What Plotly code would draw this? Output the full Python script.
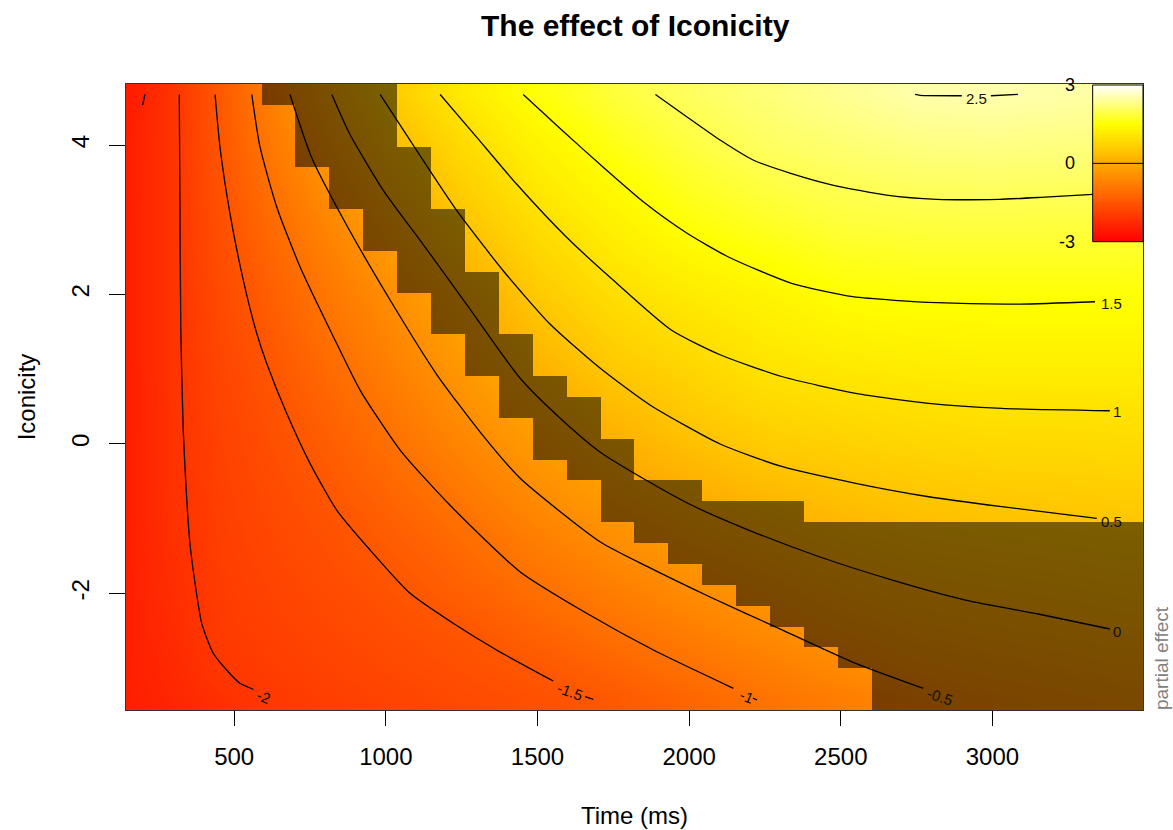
import numpy as np
import plotly.graph_objects as go

# ---------------- text ----------------
title_text = "The effect of Iconicity"
x_title = "Time (ms)"
y_title = "Iconicity"
z_title = "partial effect"

# ---------------- axes ----------------
x_range = [143.3, 3496.4]
y_range = [-3.561, 4.817]
x_ticks = [500, 1000, 1500, 2000, 2500, 3000]
y_ticks = [-2, 0, 2, 4]

# ---------------- surface (partial effect) ----------------
time_pts = [150, 300, 450, 600, 800, 1000, 1250, 1500, 1750, 2000, 2250, 2500, 2750, 3000, 3250, 3440]
icon_pts = [-3.42, -3, -2.5, -2, -1, 0, 1, 2, 3, 4, 4.68]
effect_m342 = [-2.45, -2.33, -2.16, -2.01, -1.91, -1.82, -1.70, -1.59, -1.44, -1.21, -0.98, -0.79, -0.59, -0.47, -0.39, -0.33]
effect_m3 = [-2.45, -2.28, -2.04, -1.94, -1.84, -1.74, -1.61, -1.47, -1.24, -1.01, -0.79, -0.58, -0.40, -0.31, -0.24, -0.18]
effect_m25 = [-2.45, -2.23, -1.97, -1.89, -1.77, -1.65, -1.51, -1.26, -1.01, -0.78, -0.55, -0.36, -0.21, -0.13, -0.06, -0.01]
effect_m2 = [-2.45, -2.20, -1.95, -1.84, -1.70, -1.56, -1.32, -1.06, -0.80, -0.55, -0.36, -0.16, -0.02, 0.05, 0.11, 0.17]
effect_m1 = [-2.45, -2.14, -1.90, -1.75, -1.56, -1.33, -1.01, -0.66, -0.37, -0.11, 0.09, 0.26, 0.37, 0.43, 0.47, 0.51]
effect_0 = [-2.45, -2.11, -1.85, -1.65, -1.37, -1.05, -0.65, -0.27, 0.09, 0.38, 0.60, 0.69, 0.77, 0.82, 0.83, 0.85]
effect_1 = [-2.45, -2.09, -1.79, -1.53, -1.15, -0.78, -0.32, 0.14, 0.54, 0.77, 1.01, 1.10, 1.16, 1.19, 1.19, 1.19]
effect_2 = [-2.45, -2.08, -1.71, -1.37, -0.92, -0.52, -0.01, 0.56, 0.92, 1.14, 1.32, 1.50, 1.54, 1.54, 1.54, 1.54]
effect_3 = [-2.45, -2.08, -1.62, -1.17, -0.65, -0.16, 0.48, 0.93, 1.27, 1.57, 1.73, 1.85, 1.89, 1.90, 1.89, 1.88]
effect_4 = [-2.47, -2.07, -1.51, -0.95, -0.32, 0.26, 0.85, 1.29, 1.62, 1.87, 2.06, 2.16, 2.25, 2.27, 2.24, 2.22]
effect_468 = [-2.52, -2.08, -1.45, -0.83, -0.08, 0.55, 1.13, 1.55, 1.84, 2.06, 2.21, 2.36, 2.50, 2.53, 2.48, 2.45]
effect_rows = [effect_m342, effect_m3, effect_m25, effect_m2, effect_m1, effect_0,
               effect_1, effect_2, effect_3, effect_4, effect_468]

# ---------------- non-significant cells (30 x 30 model grid, rows from top) ----------------
grid_n = 30
grid_time_min, grid_time_max = 199, 3440
grid_icon_min, grid_icon_max = -3.42, 4.677
ns_first_col = [4, 5, 5, 5, 6, 6, 7, 7, 8, 8, 9, 9, 10, 10, 11, 11, 12, 12, 13, 14, 14, 15, 16, 17, 18, 19, 20, 21, 22, 22]
ns_last_col = [7, 7, 7, 8, 8, 8, 9, 9, 9, 10, 10, 10, 11, 11, 12, 13, 13, 14, 14, 16, 19, 29, 29, 29, 29, 29, 29, 29, 29, 29]

# ---------------- contour lines ----------------
c_m25_t = [206, 198]
c_m25_y = [4.677, 4.536]
c_m2_t = [319, 321, 324, 332, 343, 354, 371, 393, 431, 475, 519, 563]
c_m2_y = [4.677, 3.264, 1.524, 0.186, -0.707, -1.330, -1.866, -2.401, -2.802, -3.026, -3.204, -3.284]
c_m15_t = [437, 453, 486, 530, 574, 607, 673, 750, 838, 948, 1080, 1222, 1365, 1552]
c_m15_y = [4.677, 3.978, 3.086, 2.193, 1.484, 1.079, 0.410, -0.260, -0.885, -1.420, -2.000, -2.401, -2.758, -3.173]
c_m15_tail_t = [1657, 1684]
c_m15_tail_y = [-3.383, -3.418]
c_m1_t = [558, 585, 640, 717, 827, 915, 1047, 1211, 1442, 1662, 1882, 2146]
c_m1_y = [4.677, 3.978, 3.175, 2.372, 1.435, 0.721, -0.082, -0.818, -1.710, -2.267, -2.758, -3.271]
c_m1_tail_t = [2210, 2224]
c_m1_tail_y = [-3.401, -3.427]
c_m05_t = [684, 756, 865, 1014, 1169, 1311, 1442, 1706, 1863, 2067, 2308, 2549, 2772]
c_m05_y = [4.677, 3.826, 2.970, 1.926, 0.922, 0.159, -0.456, -1.309, -1.643, -2.045, -2.491, -2.936, -3.271]
c_0_t = [822, 881, 991, 1122, 1268, 1442, 1574, 1706, 1863, 2007, 2188, 2429, 2670, 2911, 3151, 3387]
c_0_y = [4.677, 4.148, 3.398, 2.675, 1.859, 0.882, 0.347, -0.108, -0.497, -0.818, -1.139, -1.510, -1.822, -2.089, -2.276, -2.477]
c_05_t = [981, 1102, 1234, 1387, 1541, 1706, 1871, 2102, 2308, 2549, 2790, 3031, 3344]
c_05_y = [4.677, 3.924, 3.121, 2.318, 1.605, 1.016, 0.521, -0.001, -0.305, -0.527, -0.707, -0.840, -0.996]
c_1_t = [1179, 1300, 1431, 1596, 1739, 1941, 2104, 2308, 2549, 2790, 3031, 3387]
c_1_y = [4.677, 4.103, 3.478, 2.765, 2.230, 1.524, 1.190, 0.899, 0.677, 0.543, 0.476, 0.444]
c_15_t = [1453, 1580, 1716, 1854, 1992, 2128, 2335, 2540, 2816, 3091, 3338]
c_15_y = [4.677, 4.201, 3.706, 3.224, 2.823, 2.505, 2.153, 1.970, 1.890, 1.872, 1.903]
c_2_t = [1889, 1992, 2102, 2211, 2335, 2473, 2651, 2816, 3022, 3159, 3331, 3440]
c_2_y = [4.677, 4.379, 4.067, 3.800, 3.622, 3.465, 3.331, 3.274, 3.274, 3.300, 3.340, 3.358]
c_25a_t = [2745, 2761, 2899]
c_25a_y = [4.677, 4.665, 4.660]
c_25b_t = [2995, 3084]
c_25b_y = [4.660, 4.677]

label_text = ["-2", "-1.5", "-1", "-0.5", "0", "0.5", "1", "1.5", "2.5"]
label_time = [596, 1607, 2190, 2826, 3411, 3392, 3411, 3393, 2947]
label_icon = [-3.383, -3.316, -3.383, -3.383, -2.513, -1.041, 0.431, 1.882, 4.625]
label_angle = [22, 20, 22, 18, 0, 0, 0, 0, 0]

# ---------------- colour legend ----------------
legend_min, legend_max = -3, 3
legend_ticks = ["3", "0", "-3"]

# ---------------- build ----------------
FONT = "Liberation Sans, Arial, sans-serif"
heat = [[0.0, "#FF0000"], [0.75, "#FFFF00"], [1.0, "#FFFFFF"]]

fig = go.Figure()

fig.add_trace(go.Heatmap(
    x=time_pts, y=icon_pts, z=effect_rows, zmin=legend_min, zmax=legend_max,
    colorscale=heat, zsmooth="best", showscale=False, hoverinfo="skip"))

grid_time = np.linspace(grid_time_min, grid_time_max, grid_n)
grid_icon = np.linspace(grid_icon_min, grid_icon_max, grid_n)
mask = np.full((grid_n, grid_n), np.nan)
for i in range(grid_n):
    row = grid_n - 1 - i
    mask[row, ns_first_col[i]:ns_last_col[i] + 1] = 1.0
fig.add_trace(go.Heatmap(
    x=grid_time, y=grid_icon, z=mask, colorscale=[[0, "black"], [1, "black"]],
    opacity=0.52, zsmooth=False, showscale=False, hoverinfo="skip"))

line_style = dict(color="black", width=1.3, shape="spline", smoothing=0.6)
for tt, yy in [(c_m25_t, c_m25_y), (c_m2_t, c_m2_y), (c_m15_t, c_m15_y), (c_m15_tail_t, c_m15_tail_y),
               (c_m1_t, c_m1_y), (c_m1_tail_t, c_m1_tail_y), (c_m05_t, c_m05_y), (c_0_t, c_0_y),
               (c_05_t, c_05_y), (c_1_t, c_1_y), (c_15_t, c_15_y), (c_2_t, c_2_y),
               (c_25a_t, c_25a_y), (c_25b_t, c_25b_y)]:
    fig.add_trace(go.Scatter(x=tt, y=yy, mode="lines", line=line_style,
                             hoverinfo="skip", showlegend=False))

# colour legend drawn as a small heatmap in its own axes
leg_vals = np.linspace(legend_min, legend_max, 121)
fig.add_trace(go.Heatmap(
    x=[0], y=leg_vals, z=[[v] for v in leg_vals], zmin=legend_min, zmax=legend_max,
    colorscale=heat, zsmooth=False, showscale=False, hoverinfo="skip",
    xaxis="x2", yaxis="y2"))

leg_x0, leg_x1 = 0.9505, 1.0
leg_y0, leg_y1 = 0.7481, 0.9984
leg_mid = (leg_y0 + leg_y1) / 2

annotations = []
for txt, tx, ty, ang in zip(label_text, label_time, label_icon, label_angle):
    annotations.append(dict(x=tx, y=ty, xref="x", yref="y", text=txt, showarrow=False,
                            textangle=ang, font=dict(family=FONT, size=15, color="#111111"),
                            xanchor="center", yanchor="middle"))
annotations += [
    dict(x=0.5005, y=1.094, xref="paper", yref="paper", text="<b>" + title_text + "</b>",
         showarrow=False, font=dict(family=FONT, size=30, color="black"), xanchor="center", yanchor="middle"),
    dict(x=0.5, y=-0.168, xref="paper", yref="paper", text=x_title, showarrow=False,
         font=dict(family=FONT, size=24, color="black"), xanchor="center", yanchor="middle"),
    dict(x=-0.098, y=0.5, xref="paper", yref="paper", text=y_title, showarrow=False, textangle=-90,
         font=dict(family=FONT, size=24, color="black"), xanchor="center", yanchor="middle"),
    dict(x=1.0177, y=0.083, xref="paper", yref="paper", text=z_title, showarrow=False, textangle=-90,
         font=dict(family=FONT, size=19, color="#808080"), xanchor="center", yanchor="middle"),
]
for txt, yy in zip(legend_ticks, [leg_y1, leg_mid, leg_y0]):
    annotations.append(dict(x=0.9351, y=yy, xref="paper", yref="paper", text=txt, showarrow=False,
                            font=dict(family=FONT, size=18, color="black"),
                            xanchor="right", yanchor="middle"))

shapes = [
    dict(type="rect", xref="paper", yref="paper", x0=leg_x0, x1=leg_x1, y0=leg_y0, y1=leg_y1,
         line=dict(color="black", width=1), layer="above"),
    dict(type="line", xref="paper", yref="paper", x0=leg_x0, x1=leg_x1, y0=leg_mid, y1=leg_mid,
         line=dict(color="black", width=1), layer="above"),
]

fig.update_layout(
    width=1173, height=830,
    margin=dict(l=126, r=30, t=84, b=120),
    paper_bgcolor="white", plot_bgcolor="white",
    font=dict(family=FONT, color="black"),
    showlegend=False,
    xaxis=dict(range=x_range, tickvals=x_ticks, ticktext=[str(v) for v in x_ticks],
               ticks="outside", ticklen=15, tickwidth=1, tickcolor="black",
               tickfont=dict(family=FONT, size=24, color="black"), ticklabelstandoff=10,
               showgrid=False, zeroline=False, showline=True, linecolor="#333333",
               linewidth=1, mirror=True),
    yaxis=dict(range=y_range, tickvals=y_ticks, ticktext=[str(v) for v in y_ticks],
               ticks="outside", ticklen=16, tickwidth=1, tickcolor="black", tickangle=-90,
               tickfont=dict(family=FONT, size=24, color="black"), ticklabelstandoff=10,
               showgrid=False, zeroline=False, showline=True, linecolor="#333333",
               linewidth=1, mirror=True),
    xaxis2=dict(domain=[leg_x0, leg_x1], anchor="y2", range=[-0.5, 0.5], visible=False,
                fixedrange=True),
    yaxis2=dict(domain=[leg_y0, leg_y1], anchor="x2", range=[legend_min, legend_max],
                visible=False, fixedrange=True),
    annotations=annotations,
    shapes=shapes,
)

fig.write_html("out.html", config={"displayModeBar": False},
               post_script="document.body.style.margin='0px';")
